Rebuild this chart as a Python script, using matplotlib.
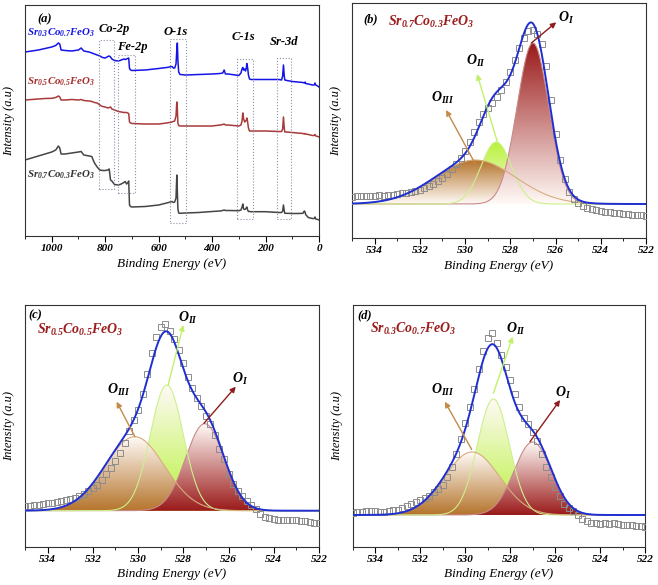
import numpy as np
import matplotlib
matplotlib.use('Agg')
import matplotlib.pyplot as plt
from matplotlib.colors import LinearSegmentedColormap
from matplotlib.ticker import MultipleLocator

plt.rcParams['font.family'] = 'Liberation Serif'
plt.rcParams['font.weight'] = 'bold'
plt.rcParams['font.style'] = 'italic'
plt.rcParams['mathtext.fontset'] = 'custom'
plt.rcParams['mathtext.rm'] = 'Liberation Serif:bold:italic'
plt.rcParams['mathtext.it'] = 'Liberation Serif:bold:italic'
plt.rcParams['mathtext.bf'] = 'Liberation Serif:bold:italic'

# ---------------- survey spectra (a) ----------------
survey_e = [1100, 1075, 1050, 1025, 1000, 985, 975, 970, 965, 950,
            925, 900, 890, 880, 860, 850, 845, 840, 830, 820,
            810, 800, 790, 785, 780, 775, 765, 750, 740, 730,
            725, 720, 716, 712, 709, 705, 700, 650, 600, 570,
            550, 545, 540, 535, 532, 530, 528, 525, 520, 500,
            450, 400, 370, 360, 355, 350, 340, 300, 292, 288,
            285, 282, 278, 275, 272, 270, 267, 264, 260, 255,
            250, 200, 150, 140, 136, 133, 130, 128, 120, 100,
            80, 60, 55, 52, 50, 40, 25, 18, 15, 12,
            5, 0]
survey_sr03 = [184, 185, 186, 187.5, 189, 190.5, 193, 192, 186, 185.5,
               185, 186, 188, 185, 184, 183, 182.5, 182, 181, 180,
               178.5, 178, 179.5, 180, 179, 177, 175.5, 175, 176, 177,
               176.5, 177, 177.5, 178, 167.5, 166, 165.5, 166, 167.5, 168.5,
               169.5, 168, 168, 172, 186, 193, 176, 164, 161.5, 161,
               161.5, 162, 162.5, 163, 166, 162, 162, 160.5, 163, 167,
               168.5, 166, 167, 165, 168, 172.5, 168, 161, 157, 156.5,
               156.5, 156.5, 156.5, 156, 160, 171, 160, 156, 155.5, 154.5,
               154, 153.5, 153, 154, 152.5, 152, 151, 151, 153, 151,
               150, 149]
survey_sr05 = [136, 136.5, 137, 137.5, 137.7, 138.5, 140, 139, 136, 136,
               136.5, 136, 136.5, 135.5, 135, 134.5, 134, 133.5, 133, 131,
               129.5, 129, 128, 128.5, 129, 127, 126, 124.5, 124, 123.5,
               123.5, 123.5, 123, 122.5, 114, 113, 112.5, 112, 112, 113,
               114, 114.5, 115, 120, 134, 127, 113, 110.5, 110, 110,
               110, 110, 111, 111.5, 112, 111, 111, 110, 111, 115,
               123, 117, 114, 115, 115.5, 118, 114, 108, 105, 105,
               105, 105, 104.5, 104.5, 107, 119, 108, 104, 104, 103.5,
               103, 102.5, 102, 102.5, 102, 101.5, 100.5, 100.5, 101.5, 100,
               99.5, 99]
survey_sr07 = [76, 78, 80, 82, 84, 86, 90, 88, 82, 82,
               83, 84, 84.5, 81, 80, 79.5, 76, 73, 69, 66,
               65.5, 65.5, 66, 67, 56, 55, 51.5, 51, 52, 53.5,
               54.5, 52, 53, 55, 31, 29.5, 29, 29.5, 31, 33,
               34.5, 33.5, 34, 38, 61, 45, 27, 23, 22.7, 23,
               23.5, 24.5, 25, 25.5, 26, 25.5, 25.5, 25.3, 26, 29,
               32, 27, 26.5, 27, 28, 29, 26, 24.5, 24.5, 24.3,
               24.3, 24.3, 23.5, 23.5, 25, 31, 25, 22.7, 22.7, 22.5,
               22.5, 22.7, 25, 24, 21.5, 18.5, 17.5, 17.5, 19, 17,
               16.5, 16]

# dotted regions: name, E high, E low, bottom, top, label E, label y
regions = [('Co-2p', 824, 766, 46.7, 196, 768, 207),
           ('Fe-2p', 751, 687, 43.3, 181, 700, 189),
           ('O-1s', 557, 497, 12.7, 196.7, 535, 204),
           ('C-1s', 308, 247, 16.7, 177.3, 283, 199),
           ('Sr-3d', 158, 105, 17.3, 178, 132, 194)]

# ---------------- O 1s spectra (b, c, d) ----------------
o1s_e = [535.0, 534.8, 534.6, 534.4, 534.2, 534.0, 533.8, 533.6, 533.4, 533.2,
         533.0, 532.8, 532.6, 532.4, 532.2, 532.0, 531.8, 531.6, 531.4, 531.2,
         531.0, 530.8, 530.6, 530.4, 530.2, 530.0, 529.8, 529.6, 529.4, 529.2,
         529.0, 528.8, 528.6, 528.4, 528.2, 528.0, 527.8, 527.6, 527.4, 527.2,
         527.0, 526.8, 526.6, 526.4, 526.2, 526.0, 525.8, 525.6, 525.4, 525.2,
         525.0, 524.8, 524.6, 524.4, 524.2, 524.0, 523.8, 523.6, 523.4, 523.2,
         523.0, 522.8, 522.6, 522.4, 522.2, 522.0]
o1s_b = [7.5, 7.8, 7.6, 8.0, 7.8, 8.2, 8.6, 8.4, 9.0, 9.5,
         10.0, 10.6, 11.5, 12.2, 13.2, 14.5, 16.0, 18.0, 20.5, 23.0,
         26, 30, 35, 40, 46, 53, 62, 72, 82, 90,
         96, 101, 107, 114, 122, 132, 144, 156, 166, 173,
         174, 170, 160, 138, 104, 70, 44, 25, 12, 5,
         1, -2, -4, -5, -6, -7, -7.5, -8, -9, -8.5,
         -9.5, -10, -10.5, -11, -11, -12]
o1s_c = [4.7, 5.0, 5.5, 6.0, 6.8, 7.3, 8.0, 8.8, 9.6, 10.5,
         11.5, 12.8, 14.5, 17.0, 19.5, 22.5, 26, 31, 37, 43,
         50, 58, 68, 80, 91, 101, 117, 137, 158, 174,
         184, 187, 180, 172, 161, 148, 134, 123, 113, 105,
         95, 87, 76, 62, 52, 37, 27, 20, 15, 10,
         6, 2, -3, -6, -7.5, -8.5, -9, -9.3, -9.3, -9.5,
         -9.5, -10, -10.5, -11, -12, -12.7]
o1s_d = [2.3, 3.0, 3.5, 4.0, 4.3, 4.0, 3.5, 3.5, 4.2, 4.8,
         5.5, 7.0, 8.8, 10.8, 13.0, 15.0, 17.0, 19.5, 23, 26,
         30, 38, 48, 61, 76, 92, 108, 126, 146, 164,
         177, 182, 172, 160, 148, 135, 121, 108, 97, 91,
         83, 74, 61, 48, 38, 28, 19, 11, 7, 4,
         0, -4, -6, -7.5, -8.3, -8.5, -8.3, -8.5, -8.3, -9,
         -9.5, -10, -10, -10.5, -11, -11.7]

# fitted components: (centre eV, FWHM eV, height) for O_I, O_II, O_III
fit_b = [(527.0, 1.65, 161), (528.62, 1.6, 62), (529.55, 4.2, 44)]
fit_c = [(527.05, 2.0, 87), (528.73, 1.72, 125.7), (530.15, 3.1, 74)]
fit_d = [(527.0, 1.95, 73), (528.75, 1.68, 116), (529.7, 2.9, 63)]

# arrows: start (E, y), end (E, y), label (E, y) for O_I, O_II, O_III
arrows_b = [((527.07, 161), (525.97, 181.7), (525.55, 186)),
            ((528.58, 62.7), (529.47, 130), (529.54, 143)),
            ((529.57, 41), (530.84, 94), (530.98, 106))]
arrows_c = [((527.09, 87.3), (525.68, 124), (525.47, 131.3)),
            ((528.67, 125.7), (528.0, 185.7), (527.78, 192.3)),
            ((530.14, 74), (530.95, 109), (530.88, 120.7))]
arrows_d = [((527.12, 73.3), (525.78, 115), (525.63, 121.7)),
            ((528.75, 121.7), (527.89, 178.3), (527.74, 185.7)),
            ((529.72, 65.7), (530.91, 113.3), (530.99, 125))]

peak_names = [r'$O_{I}$', r'$O_{II}$', r'$O_{III}$']
fill_colors = ['#9a1a1a', '#b8f23a', '#b5742c']
line_colors = ['#c98a8a', '#cdf08c', '#d6ad7e']
arrow_colors = ['#8e1c1c', '#c2f06a', '#c48a48']

survey_colors = ['#1414e6', '#a83a3a', '#454545']
envelope_color = '#1f2fd2'
dark_red = '#9b1d1d'


def gauss(x, c, w, h):
    return h * np.exp(-4 * np.log(2) * ((x - c) / w) ** 2)


def grad_fill(ax, x, y, color, dark_top, z):
    poly = ax.fill_between(x, 0, y, facecolor='none', lw=0, zorder=z)
    path = poly.get_paths()[0]
    cmap = LinearSegmentedColormap.from_list('g', ['#fffaf6', color])
    g = np.linspace(0, 1, 256).reshape(-1, 1)
    if not dark_top:
        g = g[::-1]
    im = ax.imshow(g, cmap=cmap, origin='lower', aspect='auto',
                   extent=[x.min(), x.max(), 0, y.max()], zorder=z)
    im.set_clip_path(path, ax.transData)


def style_axes(ax, major, minor):
    for s in ax.spines.values():
        s.set_linewidth(0.8)
        s.set_color('#333333')
    ax.set_yticks([])
    ax.xaxis.set_major_locator(MultipleLocator(major))
    ax.xaxis.set_minor_locator(MultipleLocator(minor))
    ax.tick_params(axis='x', which='major', direction='out', length=4,
                   width=0.8, pad=2, labelsize=8)
    ax.tick_params(axis='x', which='minor', direction='out', length=2.5, width=0.6)
    ax.set_xlabel('Binding Energy (eV)', fontsize=9.5, labelpad=3)
    ax.set_ylabel('Intensity (a.u)', fontsize=9, labelpad=7)


def o1s_panel(ax, data, fit, arrows, tag, sample, dark_top, ylim):
    xs = np.linspace(535, 522, 600)
    comps = [gauss(xs, *p) for p in fit]
    # draw order: O_II under O_III under O_I
    for i, z in [(1, 1), (2, 2), (0, 3)]:
        m = comps[i] > 0.3
        grad_fill(ax, xs[m], comps[i][m], fill_colors[i], dark_top, z)
    for i in range(3):
        ax.plot(xs, comps[i], color=line_colors[i], lw=0.8, zorder=3.5)
    ax.plot(o1s_e, data, 's', mfc='none', mec='#8c8c8c', ms=3.8, mew=0.7, zorder=4)
    ax.plot(xs, sum(comps), color=envelope_color, lw=1.4, zorder=5)
    for i, (s, e, lab) in enumerate(arrows):
        ax.annotate('', xy=e, xytext=s, zorder=6,
                    arrowprops=dict(arrowstyle='-|>', color=arrow_colors[i],
                                    lw=1.0, mutation_scale=8, shrinkA=0, shrinkB=0))
        ax.text(lab[0], lab[1], peak_names[i], fontsize=10, ha='center',
                va='center', zorder=6)
    ax.text(tag[0], tag[1], tag[2], transform=ax.transAxes, fontsize=9,
            ha='left', va='center')
    ax.text(sample[0], sample[1], sample[2], transform=ax.transAxes, fontsize=10,
            color=dark_red, ha='left', va='center')
    ax.set_xlim(535, 522)
    ax.set_ylim(*ylim)
    style_axes(ax, 2, 1)


fig = plt.figure(figsize=(6.58, 5.85), dpi=100)
W, H = 658, 585


def box(l, t, r, b):
    return [l / W, 1 - b / H, (r - l) / W, (b - t) / H]


# (a)
ax = fig.add_axes(box(25, 5, 319, 236))
for vals, c in zip([survey_sr03, survey_sr05, survey_sr07], survey_colors):
    ax.plot(survey_e, vals, color=c, lw=1.1)
for name, e1, e2, y1, y2, lx, ly in regions:
    ax.plot([e1, e2, e2, e1, e1], [y1, y1, y2, y2, y1], ls=':', color='#8a8fa8', lw=0.8)
    ax.text(lx, ly, name, fontsize=9, ha='center', va='center')
ax.text(1055, 217, '(a)', fontsize=9, ha='left', va='center')
ax.text(1094, 203, r'$Sr_{0.3}Co_{0.7}FeO_3$', fontsize=7.8, color=survey_colors[0],
        ha='left', va='center')
ax.text(1094, 154, r'$Sr_{0.5}Co_{0.5}FeO_3$', fontsize=7.8, color='#a82c2c',
        ha='left', va='center')
ax.text(1094, 61, r'$Sr_{0.7}Co_{0.3}FeO_3$', fontsize=7.8, color='#333333',
        ha='left', va='center')
ax.set_xlim(1100, 0)
ax.set_ylim(0, 231)
style_axes(ax, 200, 100)

# (b)
ax = fig.add_axes(box(352, 3, 646, 238))
o1s_panel(ax, o1s_b, fit_b, arrows_b, (0.037, 0.932, '(b)'),
          (0.122, 0.919, r'$Sr_{0.7}Co_{0.3}FeO_3$'), True, (-34, 201))

# (c)
ax = fig.add_axes(box(25, 305, 319, 547))
o1s_panel(ax, o1s_c, fit_c, arrows_c, (0.012, 0.959, '(c)'),
          (0.041, 0.897, r'$Sr_{0.5}Co_{0.5}FeO_3$'), False, (-36.3, 205.7))

# (d)
ax = fig.add_axes(box(353, 305, 645, 547))
o1s_panel(ax, o1s_d, fit_d, arrows_d, (0.014, 0.959, '(d)'),
          (0.058, 0.90, r'$Sr_{0.3}Co_{0.7}FeO_3$'), False, (-32, 210))

fig.savefig('out.png', dpi=100)
